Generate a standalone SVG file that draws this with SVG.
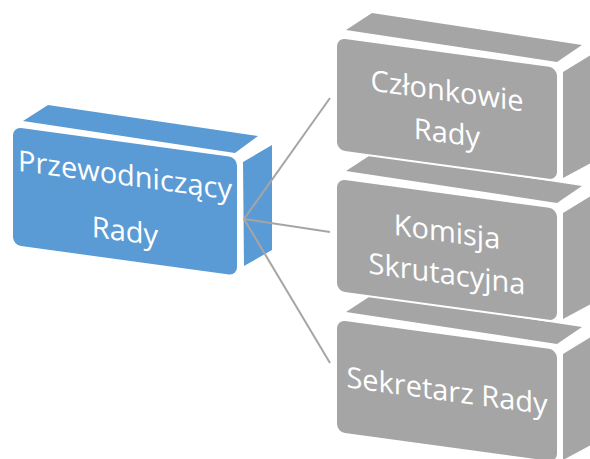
<svg xmlns="http://www.w3.org/2000/svg" width="590" height="459" viewBox="0 0 590 459">
<style>
.blue{fill:#5B9BD5;stroke:#FFFFFF;stroke-width:4;stroke-linejoin:round;paint-order:stroke}
.gray{fill:#A5A5A5;stroke:#FFFFFF;stroke-width:4;stroke-linejoin:round;paint-order:stroke}
.lbl{font-family:"Open Sans","Noto Sans","Liberation Sans",sans-serif;font-size:29px;fill:#FFFFFF;text-anchor:middle}
.conn{stroke:#A5A5A5;stroke-width:2;fill:none}
</style>
<rect width="590" height="459" fill="#FFFFFF"/>
<g id="sekretarz" transform="translate(337,320)">
<polygon class="gray" points="9,-8 35,-25 245,7 220,24"/>
<polygon class="gray" points="226,34 254,17 254,125 226,140"/>
<g transform="matrix(1,0.136,0,1,0,0)">
<rect class="gray" x="0" y="0" width="220" height="112" rx="8"/>
<text class="lbl" x="110" y="66">Sekretarz Rady</text>
</g>
</g>
<g id="komisja" transform="translate(337,179)">
<polygon class="gray" points="9,-8 35,-25 245,7 220,24"/>
<polygon class="gray" points="226,34 254,17 254,125 226,140"/>
<g transform="matrix(1,0.136,0,1,0,0)">
<rect class="gray" x="0" y="0" width="220" height="112" rx="8"/>
<text class="lbl" x="110" y="48">Komisja</text>
<text class="lbl" x="110" y="90">Skrutacyjna</text>
</g>
</g>
<g id="czlonkowie" transform="translate(337,38)">
<polygon class="gray" points="9,-8 35,-25 245,7 220,24"/>
<polygon class="gray" points="226,34 254,17 254,125 226,140"/>
<g transform="matrix(1,0.136,0,1,0,0)">
<rect class="gray" x="0" y="0" width="220" height="112" rx="8"/>
<text class="lbl" x="110" y="48">Członkowie</text>
<text class="lbl" x="110" y="90">Rady</text>
</g>
</g>
<g id="przewodniczacy" transform="translate(13,127)">
<polygon class="blue" points="10,-6 35,-22 245,9 222,26"/>
<polygon class="blue" points="230,35 259,18 259,123 231,139"/>
<g transform="matrix(1,0.136,0,1,0,0)">
<rect class="blue" x="0" y="0" width="224" height="118" rx="8"/>
<text class="lbl" x="112" y="43">Przewodniczący</text>
<text class="lbl" x="112" y="99">Rady</text>
</g>
</g>
<g id="connectors">
<line class="conn" x1="244" y1="219" x2="330" y2="98"/>
<line class="conn" x1="244" y1="219" x2="330" y2="232"/>
<line class="conn" x1="244" y1="219" x2="330" y2="363"/>
</g>
</svg>
